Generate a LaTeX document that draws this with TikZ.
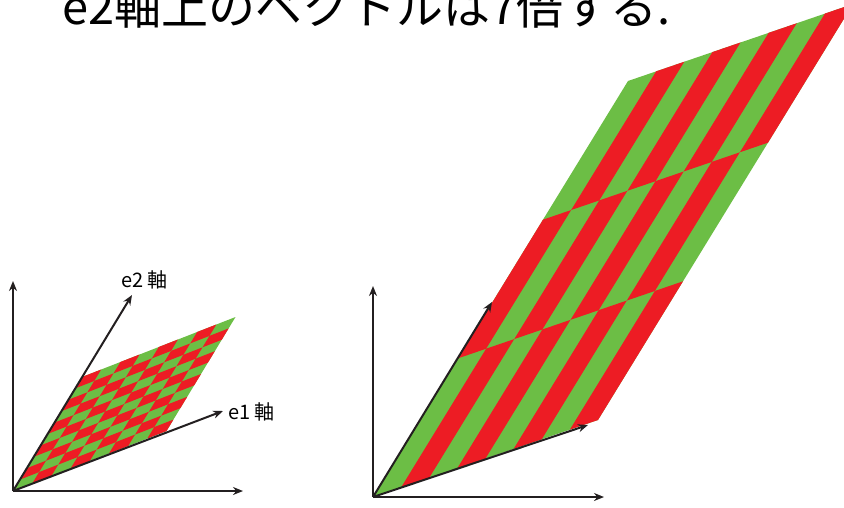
\documentclass[tikz,border=0pt]{standalone}
\usepackage{fontspec}
\setmainfont{Noto Sans CJK JP}
\usetikzlibrary{arrows.meta}
\definecolor{Ink}{HTML}{231F20}
\definecolor{Leaf}{HTML}{6CBE45}
\definecolor{Cherry}{HTML}{ED1C24}

\begin{document}
\begin{tikzpicture}[x=1pt,y=-1pt,
    axis/.style={line width=2pt,Ink,-{Stealth[length=10pt,width=8pt]}},
    lab/.style={anchor=west,inner sep=0pt,font=\fontsize{20}{22}\selectfont}]
    \useasboundingbox (0,0) rectangle (844,507);
    \clip (0,0) rectangle (844,507);
    \node[anchor=base west,inner sep=0pt,font=\fontsize{47}{50}\selectfont]
      (title) at (62,24) {e2軸上のベクトルは7倍する.};
    % left: the checkerboard
    \begin{scope}[shift={(13,491)},x={(19.19pt,7.5pt)},y={(6.9pt,11.4pt)}]
      \fill[Leaf] (0,0) -- (8,0) -- (8,10) -- (0,10) -- cycle;
      \foreach \i in {0,...,7}
        \foreach \j in {0,...,9}
        {
          \pgfmathparse{int(mod(\i+\j,2))}
          \ifnum\pgfmathresult=1
            \fill[Cherry] (\i,\j) -- ++(1,0) -- ++(0,1) -- ++(-1,0) -- cycle;
          \fi
        }
    \end{scope}
    % right: e2 stretched
    \begin{scope}[shift={(373,497)},x={(28.125pt,9.625pt)},y={(85pt,138.67pt)}]
      \fill[Leaf] (0,0) -- (8,0) -- (8,3) -- (0,3) -- cycle;
      \foreach \i in {0,...,7}
        \foreach \j in {0,...,2}
        {
          \pgfmathparse{int(mod(\i+\j,2))}
          \ifnum\pgfmathresult=1
            \fill[Cherry] (\i,\j) -- ++(1,0) -- ++(0,1) -- ++(-1,0) -- cycle;
          \fi
        }
    \end{scope}
    % axes
    \coordinate (oL) at (13,491);
    \coordinate (xL) at (243,491);
    \coordinate (yL) at (13,281);
    \coordinate (e1L) at (223,411);
    \coordinate (e2L) at (132,295);
    \coordinate (oR) at (373,497);
    \coordinate (xR) at (604,497);
    \coordinate (yR) at (373,286);
    \coordinate (e1R) at (588,425);
    \coordinate (e2R) at (492,302);
    \draw[axis] (oL) -- (xL);
    \draw[axis] (oL) -- (yL);
    \draw[axis] (oL) -- (e1L);
    \draw[axis] (oL) -- (e2L);
    \draw[axis] (oR) -- (xR);
    \draw[axis] (oR) -- (yR);
    \draw[axis] (oR) -- (e1R);
    \draw[axis] (oR) -- (e2R);
    \node[lab] (e2lab) at (121,280) {e2 軸};
    \node[lab] (e1lab) at (228,412) {e1 軸};
\end{tikzpicture}
\end{document}
